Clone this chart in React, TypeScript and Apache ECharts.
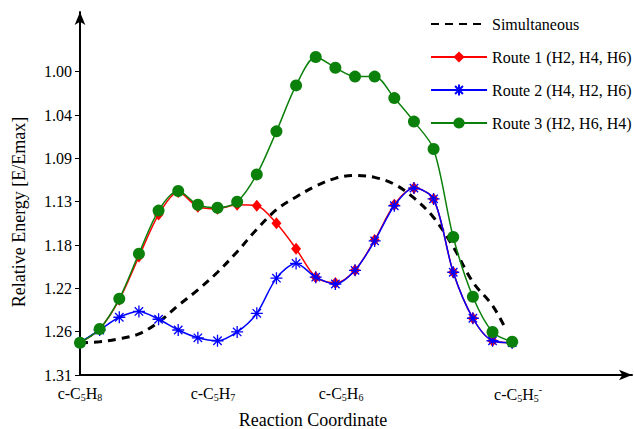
import React, { useEffect, useRef } from "react";
import * as echarts from "echarts";

// Reaction-coordinate step index of each computed point
const stepIndex = [0, 1, 2, 3, 4, 5, 6, 7, 8, 9, 10, 11, 12, 13, 14, 15, 16, 17, 18, 19, 20, 21, 22];

// Relative energy [E/Emax] per route (axis labels read downward)
const route1 = [1.277, 1.263, 1.233, 1.189, 1.146, 1.123, 1.138, 1.140, 1.136, 1.137, 1.155, 1.181, 1.210, 1.216, 1.203, 1.172, 1.136, 1.119, 1.130, 1.205, 1.252, 1.275, 1.277];
const route2 = [1.277, 1.264, 1.251, 1.245, 1.253, 1.264, 1.272, 1.275, 1.266, 1.247, 1.211, 1.196, 1.210, 1.217, 1.203, 1.173, 1.137, 1.119, 1.130, 1.205, 1.252, 1.275, 1.277];
const route3 = [1.277, 1.263, 1.232, 1.186, 1.142, 1.122, 1.136, 1.139, 1.133, 1.105, 1.061, 1.014, 0.985, 0.996, 1.005, 1.005, 1.027, 1.051, 1.079, 1.169, 1.230, 1.266, 1.276];

// Simultaneous path (dashed curve)
const simultaneousX = [0, 1, 2, 3, 4, 5, 6, 7, 8, 9, 10, 11, 12, 13, 14, 15, 16, 17, 18, 19, 20, 21, 21.7];
const simultaneous = [1.277, 1.276, 1.273, 1.268, 1.256, 1.239, 1.223, 1.205, 1.184, 1.161, 1.141, 1.128, 1.117, 1.109, 1.106, 1.108, 1.115, 1.129, 1.149, 1.179, 1.215, 1.239, 1.264];

// Axis labels
const yTickLabels = ["1.00", "1.04", "1.09", "1.13", "1.18", "1.22", "1.26", "1.31"];
const yTickStart = 1.0;
const yTickEnd = 1.31;
const xSpeciesLabels = ["c-C{s|5}H{s|8}", "c-C{s|5}H{s|7}", "c-C{s|5}H{s|6}", "c-C{s|5}H{s|5}{p|-}"];
const xSpeciesPositions = [0, 6.77, 13.29, 22.3];

const seriesNames = ["Simultaneous", "Route 1 (H2, H4, H6)", "Route 2 (H4, H2, H6)", "Route 3 (H2, H6, H4)"];

const FONT = '"Liberation Serif", "Times New Roman", serif';

export default function App() {
  const ref = useRef<HTMLDivElement>(null);

  useEffect(() => {
    if (!ref.current) return;
    const chart = echarts.init(ref.current, undefined, { renderer: "svg" });

    const step = (yTickEnd - yTickStart) / (yTickLabels.length - 1);
    const yTickValues = yTickLabels.map((_, i) => yTickStart + i * step);

    const nearestIndex = (arr: number[], v: number) => {
      let best = 0;
      for (let i = 1; i < arr.length; i++) {
        if (Math.abs(arr[i] - v) < Math.abs(arr[best] - v)) best = i;
      }
      return best;
    };

    const star = "path://M5,0L5,10M0,5L10,5M1.5,1.5L8.5,8.5M1.5,8.5L8.5,1.5";
    const legendText = { fontSize: 16, fontFamily: FONT, color: "#000" };

    chart.setOption({
      animation: false,
      backgroundColor: "#ffffff",
      textStyle: { fontFamily: FONT },
      grid: { left: 80, right: 2, top: 12, bottom: 54, containLabel: false, outerBoundsMode: "none" },
      legend: {
        orient: "vertical",
        left: 430,
        top: 16,
        padding: 0,
        itemWidth: 56,
        itemHeight: 14,
        itemGap: 17,
        textStyle: legendText,
        data: [
          { name: seriesNames[0], itemStyle: { opacity: 0 }, textStyle: legendText },
          { name: seriesNames[1], textStyle: legendText },
          { name: seriesNames[2], textStyle: legendText },
          { name: seriesNames[3], textStyle: legendText },
        ],
      },
      xAxis: {
        type: "value",
        min: 0,
        max: 28.1,
        splitLine: { show: false },
        axisTick: { show: false },
        axisLine: {
          symbol: ["none", "arrow"],
          symbolSize: [8, 13],
          lineStyle: { color: "#000", width: 2 },
        },
        axisLabel: {
          customValues: xSpeciesPositions,
          margin: 9,
          color: "#000",
          fontSize: 16,
          fontFamily: FONT,
          formatter: (v: number) => xSpeciesLabels[nearestIndex(xSpeciesPositions, v)],
          rich: {
            s: { fontSize: 10, fontFamily: FONT, color: "#000", padding: [8, 0, 0, 0] },
            p: { fontSize: 10, fontFamily: FONT, color: "#000", padding: [0, 0, 10, 0] },
          },
        },
      },
      yAxis: {
        type: "value",
        inverse: true,
        min: 0.939,
        max: 1.31,
        splitLine: { show: false },
        axisLine: {
          symbol: ["none", "arrow"],
          symbolSize: [8, 13],
          lineStyle: { color: "#000", width: 2 },
        },
        axisTick: {
          show: true,
          customValues: yTickValues,
          length: 5,
          lineStyle: { color: "#000", width: 1 },
        },
        axisLabel: {
          customValues: yTickValues,
          margin: 8,
          color: "#000",
          fontSize: 16,
          fontFamily: FONT,
          formatter: (v: number) => yTickLabels[nearestIndex(yTickValues, v)],
        },
      },
      graphic: [
        {
          type: "text",
          x: 313,
          y: 420,
          style: {
            text: "Reaction Coordinate",
            font: `18px ${FONT}`,
            fill: "#000",
            textAlign: "center",
            textVerticalAlign: "middle",
          },
        },
        {
          type: "text",
          x: 19,
          y: 212,
          rotation: Math.PI / 2,
          style: {
            text: "Relative Energy [E/Emax]",
            font: `18px ${FONT}`,
            fill: "#000",
            textAlign: "center",
            textVerticalAlign: "middle",
          },
        },
      ],
      series: [
        {
          name: seriesNames[0],
          type: "line",
          smooth: 0.35,
          symbol: "none",
          z: 1,
          color: "#000",
          lineStyle: { color: "#000", width: 3, type: [8, 6] },
          data: simultaneousX.map((x, i) => [x, simultaneous[i]]),
        },
        {
          name: seriesNames[1],
          type: "line",
          smooth: 0.3,
          symbol: "diamond",
          symbolSize: [10, 12],
          z: 2,
          color: "#ff0000",
          lineStyle: { color: "#ff0000", width: 1.5 },
          itemStyle: { color: "#ff0000" },
          data: stepIndex.map((x, i) => [x, route1[i]]),
        },
        {
          name: seriesNames[2],
          type: "line",
          smooth: 0.3,
          symbol: star,
          symbolSize: 12,
          z: 3,
          color: "#0000ff",
          lineStyle: { color: "#0000ff", width: 1.5 },
          itemStyle: { color: "#0000ff", borderColor: "#0000ff", borderWidth: 1.3 },
          data: stepIndex.map((x, i) => [x, route2[i]]),
        },
        {
          name: seriesNames[3],
          type: "line",
          smooth: 0.3,
          symbol: "circle",
          symbolSize: 12,
          z: 4,
          color: "#0b800b",
          lineStyle: { color: "#0b800b", width: 1.5 },
          itemStyle: { color: "#0b800b" },
          data: stepIndex.map((x, i) => [x, route3[i]]),
        },
      ],
    });

    return () => chart.dispose();
  }, []);

  return (
    <div
      ref={ref}
      style={{ position: "absolute", left: 0, top: 0, width: 634, height: 429, background: "#fff" }}
    />
  );
}
